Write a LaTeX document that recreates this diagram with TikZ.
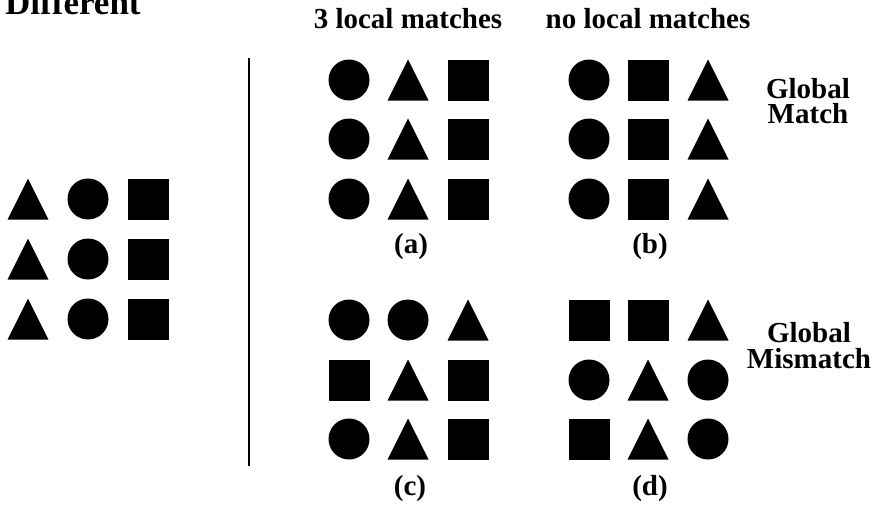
\documentclass[tikz,border=0pt]{standalone}
\usepackage{fontspec}
\setmainfont{Liberation Serif}
\begin{document}
\begin{tikzpicture}[x=1pt,y=-1pt,
  lbl/.style={font=\fontsize{29}{25}\selectfont\bfseries, inner sep=0pt, anchor=base},
  pics/disc/.style={code={\fill (0,0) circle (20.5);}},
  pics/box/.style={code={\fill (-20.5,-20.5) rectangle (20.5,20.5);}},
  pics/tri/.style={code={\fill (-20.5,20.5) -- (20.5,20.5) -- (0,-20.5) -- cycle;}}]
\useasboundingbox (0,0) rectangle (880,506);

% title and column headings
\node[lbl, anchor=base west, font=\fontsize{35}{35}\selectfont\bfseries] (title) at (5,14) {Different};
\node[lbl] (hdA) at (408,28) {3 local matches};
\node[lbl] (hdB) at (648,28) {no local matches};

% separator
\draw[line width=1.1pt] (249,58) -- (249,466);

% reference array
\foreach \y in {199,259,319} {
  \pic at (28,\y) {tri};
  \pic at (88,\y) {disc};
  \pic at (148,\y) {box};
}

% (a)
\foreach \y in {80,139,199} {
  \pic at (349,\y) {disc};
  \pic at (408,\y) {tri};
  \pic at (468,\y) {box};
}
% (b)
\foreach \y in {80,139,199} {
  \pic at (589,\y) {disc};
  \pic at (648,\y) {box};
  \pic at (708,\y) {tri};
}
% (c)
\pic at (349,320) {disc}; \pic at (408,320) {disc}; \pic at (468,320) {tri};
\pic at (349,380) {box};  \pic at (408,380) {tri};  \pic at (468,380) {box};
\pic at (349,439) {disc}; \pic at (408,439) {tri};  \pic at (468,439) {box};
% (d)
\pic at (589,320) {box};  \pic at (648,320) {box};  \pic at (708,320) {tri};
\pic at (589,380) {disc}; \pic at (648,380) {tri};  \pic at (708,380) {disc};
\pic at (589,439) {box};  \pic at (648,439) {tri};  \pic at (708,439) {disc};

% panel letters
\node[lbl] (la) at (411,253) {(a)};
\node[lbl] (lb) at (650,253) {(b)};
\node[lbl] (lc) at (410,495) {(c)};
\node[lbl] (ld) at (650,495) {(d)};

% row labels
\node[lbl] (gm1) at (808,98) {Global};
\node[lbl] (gm2) at (808,123) {Match};
\node[lbl] (gx1) at (809,342) {Global};
\node[lbl] (gx2) at (809,368) {Mismatch};
\end{tikzpicture}
\end{document}
